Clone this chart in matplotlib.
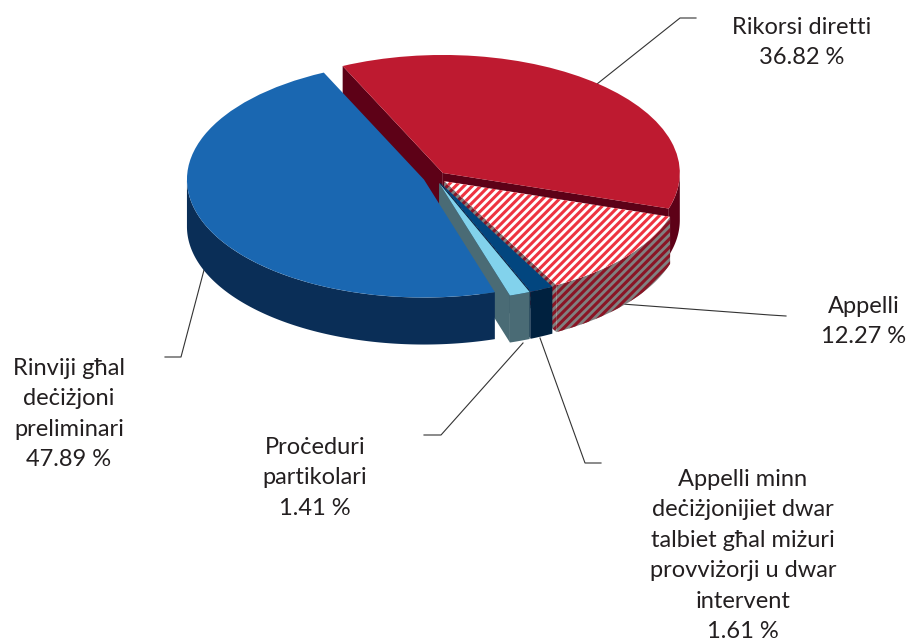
import numpy as np
import matplotlib
matplotlib.use("Agg")
import matplotlib.pyplot as plt

labels = ["Rikorsi diretti", "Appelli",
          "Appelli minn\ndeċiżjonijiet dwar\ntalbiet għal miżuri\nprovviżorji u dwar\nintervent",
          "Proċeduri\npartikolari", "Rinviji għal\ndeċiżjoni\npreliminari"]
values = [36.82, 12.27, 1.61, 1.41, 47.89]
top_colors = ["#be1a30", "#ffffff", "#02467f", "#82d2ec", "#1a67b1"]
side_colors = ["#5d0117", "#808080", "#00213f", "#4a6b75", "#0a2e57"]
hatch_top = [None, "#ee3340", None, None, None]
hatch_side = [None, "#8a1525", None, None, None]
label_xy = [(802, 42.5), (864, 321.5), (743, 555.5), (315, 478), (69, 414)]
leaders = [[(597, 84), (680, 18), (696, 18)],
           [(622, 304), (770, 315), (786, 316)],
           [(540, 338), (585, 463), (601, 463)],
           [(523, 343), (441, 435), (424, 435)],
           [(204, 270), (181, 357), (165, 357)]]

W, H = 907, 642
CX, CY, A, B, DEPTH = 435, 177.4, 237, 118, 47

plt.rcParams["font.family"] = ["Lato", "Noto Sans", "DejaVu Sans"]
plt.rcParams["hatch.linewidth"] = 2.2
fig = plt.figure(figsize=(W / 100, H / 100), dpi=100)
ax = fig.add_axes([0, 0, 1, 1])
wedges, _ = ax.pie(values, explode=[0.05] * 5, startangle=115, counterclock=False,
                   colors=top_colors, frame=True)
ax.set_aspect("auto")
ax.set_xlim((0 - CX) / A, (W - CX) / A)
ax.set_ylim((CY - H) / B, CY / B)
ax.axis("off")
depth = DEPTH / B


def face(pts, zorder, color, hatch_color):
    pts = np.array(pts)
    kw = dict(facecolor=color, linewidth=0, zorder=zorder)
    if hatch_color:
        kw.update(hatch="////", edgecolor=hatch_color)
    ax.fill(pts[:, 0], pts[:, 1], **kw)


for i, w in enumerate(wedges):
    w.set_zorder(2 * i + 2)
    w.set_linewidth(0)
    if hatch_top[i]:
        w.set_hatch("////")
        w.set_edgecolor(hatch_top[i])
    c = np.array(w.center)
    t = np.radians(np.linspace(w.theta1, w.theta2, 720))
    x, y = c[0] + np.cos(t), c[1] + np.sin(t)
    m = np.sin(t) <= 0
    if m.any():
        upper = np.column_stack([x[m], y[m]])
        lower = upper - [0, depth]
        face(np.vstack([upper, lower[::-1]]), 2 * i + 1, side_colors[i], hatch_side[i])
    for th, sign in ((w.theta1, -1), (w.theta2, 1)):
        r = np.radians(th)
        normal_y = sign * np.cos(r)
        if normal_y < 0:
            p = c + [np.cos(r), np.sin(r)]
            face([c, p, p - [0, depth], c - [0, depth]], 2 * i + 1, side_colors[i], hatch_side[i])


def px(p):
    return (p[0] - CX) / A, (CY - p[1]) / B


for lab, v, xy, pts in zip(labels, values, label_xy, leaders):
    ax.text(*px(xy), f"{lab}\n{v:.2f} %", ha="center", va="center", fontsize=17,
            linespacing=1.56, color="#231f20", zorder=20)
    d = np.array([px(p) for p in pts])
    ax.plot(d[:, 0], d[:, 1], color="#333333", lw=0.8, zorder=1)

fig.savefig("out.png", dpi=100)
